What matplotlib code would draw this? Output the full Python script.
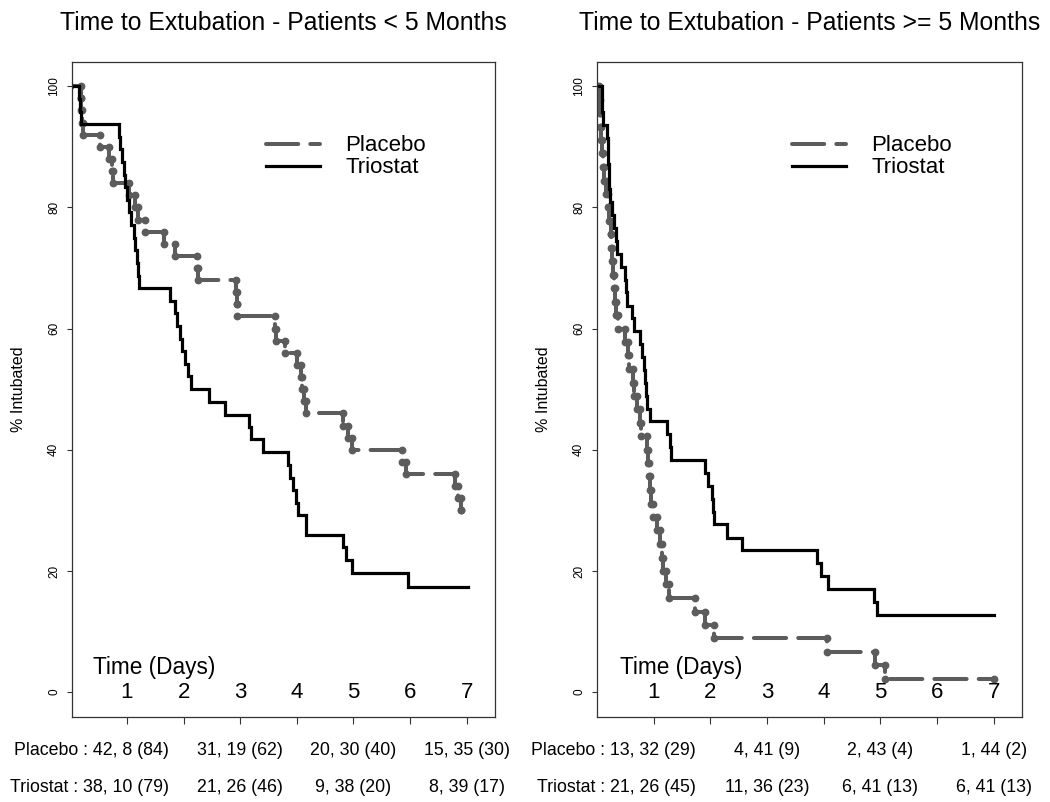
import matplotlib
matplotlib.use("Agg")
import matplotlib.pyplot as plt
from matplotlib.lines import Line2D
from matplotlib.transforms import blended_transform_factory

# day labels drawn inside the plot
days = [1, 2, 3, 4, 5, 6, 7]
y_ticks = [0, 20, 40, 60, 80, 100]

# left panel: patients < 5 months (event times in days, % still intubated after event)
left_placebo_t = [0.18, 0.19, 0.20, 0.22, 0.52, 0.68, 0.73, 0.76, 1.03, 1.15, 1.20, 1.32,
                  1.66, 1.85, 2.23, 2.25, 2.93, 2.94, 2.95, 3.61, 3.64, 3.79, 4.00, 4.07,
                  4.09, 4.13, 4.16, 4.82, 4.90, 4.97, 5.86, 5.92, 6.79, 6.84, 6.89]
left_placebo_s = [98, 96, 94, 92, 90, 88, 86, 84, 82, 80, 78, 76,
                  74, 72, 70, 68, 66, 64, 62, 60, 58, 56, 54, 52,
                  50, 48, 46, 44, 42, 40, 38, 36, 34, 32, 30]
left_placebo_end = 6.89

left_triostat_t = [0.15, 0.17, 0.19, 0.86, 0.88, 0.92, 0.94, 0.97, 1.00, 1.03, 1.07, 1.13,
                   1.15, 1.17, 1.19, 1.22, 1.76, 1.84, 1.89, 1.93, 1.98, 2.03, 2.08, 2.13,
                   2.44, 2.73, 3.15, 3.19, 3.40, 3.85, 3.88, 3.93, 3.98, 4.02, 4.17, 4.81,
                   4.86, 4.97, 5.96]
left_triostat_s = [97.9, 95.8, 93.75, 91.7, 89.6, 87.5, 85.4, 83.3, 81.25, 79.2, 77.1, 75.0,
                   72.9, 70.8, 68.75, 66.7, 64.6, 62.5, 60.4, 58.3, 56.25, 54.2, 52.1, 50.0,
                   47.9, 45.8, 43.75, 41.7, 39.6, 37.5, 35.4, 33.3, 31.25, 29.2, 26.0, 24.0,
                   21.8, 19.6, 17.4]
left_triostat_end = 7.02

# right panel: patients >= 5 months
right_placebo_t = [0.03, 0.05, 0.06, 0.07, 0.08, 0.11, 0.13, 0.16, 0.19, 0.22, 0.24, 0.25,
                   0.27, 0.28, 0.30, 0.31, 0.33, 0.37, 0.50, 0.54, 0.57, 0.63, 0.66, 0.70,
                   0.75, 0.78, 0.88, 0.90, 0.92, 0.93, 0.96, 0.99, 1.06, 1.11, 1.14, 1.17,
                   1.22, 1.27, 1.72, 1.90, 2.07, 4.06, 4.91, 5.08]
right_placebo_s = [97.8, 95.6, 93.3, 91.1, 88.9, 86.7, 84.4, 82.2, 80.0, 77.8, 75.6, 73.3,
                   71.1, 68.9, 66.7, 64.4, 62.2, 60.0, 57.8, 55.6, 53.3, 51.1, 48.9, 46.7,
                   44.4, 42.2, 40.0, 37.8, 35.6, 33.3, 31.1, 28.9, 26.7, 24.4, 22.2, 20.0,
                   17.8, 15.6, 13.3, 11.1, 8.9, 6.7, 4.4, 2.2]
right_placebo_end = 7.0

right_triostat_t = [0.08, 0.09, 0.11, 0.17, 0.19, 0.20, 0.21, 0.22, 0.23, 0.27, 0.30, 0.33,
                    0.35, 0.43, 0.49, 0.51, 0.53, 0.62, 0.66, 0.76, 0.80, 0.83, 0.84, 0.86,
                    0.88, 0.93, 1.24, 1.28, 1.31, 1.90, 1.95, 2.02, 2.04, 2.06, 2.30, 2.55,
                    3.89, 3.95, 4.08, 4.88, 4.94]
right_triostat_s = [97.9, 95.7, 93.6, 91.5, 89.4, 87.2, 85.1, 83.0, 80.9, 78.7, 76.6, 74.5,
                    72.3, 70.2, 68.1, 66.0, 63.8, 61.7, 59.6, 57.4, 55.3, 53.2, 51.1, 48.9,
                    46.8, 44.7, 42.6, 40.4, 38.3, 36.2, 34.0, 31.9, 29.8, 27.7, 25.5, 23.4,
                    21.3, 19.1, 17.0, 14.9, 12.8]
right_triostat_end = 7.0

# numbers at risk table under each panel
risk_days = [1, 3, 5, 7]
left_placebo_risk = ["42, 8 (84)", "31, 19 (62)", "20, 30 (40)", "15, 35 (30)"]
left_triostat_risk = ["38, 10 (79)", "21, 26 (46)", "9, 38 (20)", "8, 39 (17)"]
right_placebo_risk = ["13, 32 (29)", "4, 41 (9)", "2, 43 (4)", "1, 44 (2)"]
right_triostat_risk = ["21, 26 (45)", "11, 36 (23)", "6, 41 (13)", "6, 41 (13)"]

titles = ["Time to Extubation - Patients < 5 Months",
          "Time to Extubation - Patients >= 5 Months"]

PLACEBO_COLOR = "#5c5c5c"
TRIOSTAT_COLOR = "#000000"
MAIN_FONT = ["Liberation Sans", "DejaVu Sans"]


def step_path(times, surv, t_end):
    """Build the vertices of a Kaplan-Meier style step curve starting at 100%."""
    xs = [0.0]
    ys = [100.0]
    prev = 100.0
    for t, s in zip(times, surv):
        xs += [t, t]
        ys += [prev, s]
        prev = s
    xs.append(t_end)
    ys.append(prev)
    return xs, ys


def draw_panel(fig, ax, title, placebo, triostat, placebo_risk, triostat_risk, x_left):
    px, py = step_path(*placebo)
    tx, ty = step_path(*triostat)

    ax.plot(px, py, color=PLACEBO_COLOR, lw=2.9, dashes=(8, 3),
            dash_capstyle="round", solid_joinstyle="round")
    ax.plot(px, py, linestyle="none", marker="o", ms=4.6, color=PLACEBO_COLOR)
    ax.plot(tx, ty, color=TRIOSTAT_COLOR, lw=2.3, solid_joinstyle="miter")

    ax.set_xlim(x_left, 7.5)
    ax.set_ylim(-4.1, 104)
    ax.set_xticks(days)
    ax.set_xticklabels([])
    ax.set_yticks(y_ticks)
    ax.set_yticklabels([str(v) for v in y_ticks], family=MAIN_FONT, fontsize=8.5,
                       rotation=90, va="center")
    ax.tick_params(axis="x", direction="out", length=5, width=0.8, color="#333333")
    ax.tick_params(axis="y", direction="out", length=3.6, width=0.8, pad=5, color="#333333")
    for sp in ax.spines.values():
        sp.set_linewidth(0.9)
        sp.set_color("#333333")

    ax.set_title(title, family=MAIN_FONT, fontsize=17.8, pad=23)
    ax.set_ylabel("% Intubated", family=MAIN_FONT, fontsize=11.5)
    ax.yaxis.set_label_coords(-0.108, 0.5)

    # day numbers and axis caption inside the plot
    for d in days:
        ax.text(d, 0, str(d), family=MAIN_FONT, fontsize=16, ha="center", va="center")
    ax.text(0.4, 3.0, "Time (Days)", family=MAIN_FONT, fontsize=16.3, ha="left", va="baseline")

    handles = [Line2D([], [], color=PLACEBO_COLOR, lw=2.9, dashes=(8, 3), dash_capstyle="round"),
               Line2D([], [], color=TRIOSTAT_COLOR, lw=2.3)]
    ax.legend(handles, ["Placebo", "Triostat"], frameon=False, loc="upper left",
              bbox_to_anchor=(0.433, 0.905), borderpad=0, handlelength=2.4,
              handletextpad=1.15, labelspacing=0.05, prop={"family": MAIN_FONT, "size": 16})

    # at-risk table below the axes
    trans = blended_transform_factory(ax.transData, fig.transFigure)
    rows = [("Placebo : ", placebo_risk, 0.0648), ("Triostat : ", triostat_risk, 0.0187)]
    for label, vals, yf in rows:
        ax.text(1.74, yf, label + vals[0], transform=trans, family=MAIN_FONT,
                fontsize=12.8, ha="right", va="center", clip_on=False)
        for d, v in zip(risk_days[1:], vals[1:]):
            ax.text(d, yf, v, transform=trans, family=MAIN_FONT,
                    fontsize=12.8, ha="center", va="center", clip_on=False)


def main():
    fig = plt.figure(figsize=(10.5, 8.02), dpi=100)
    ax_left = fig.add_axes([0.0686, 0.106, 0.4029, 0.8167])
    ax_right = fig.add_axes([0.5686, 0.106, 0.4048, 0.8167])

    draw_panel(fig, ax_left, titles[0],
               (left_placebo_t, left_placebo_s, left_placebo_end),
               (left_triostat_t, left_triostat_s, left_triostat_end),
               left_placebo_risk, left_triostat_risk, 0.03)
    draw_panel(fig, ax_right, titles[1],
               (right_placebo_t, right_placebo_s, right_placebo_end),
               (right_triostat_t, right_triostat_s, right_triostat_end),
               right_placebo_risk, right_triostat_risk, 0.0)

    fig.savefig("out.png", dpi=100)


if __name__ == "__main__":
    main()
